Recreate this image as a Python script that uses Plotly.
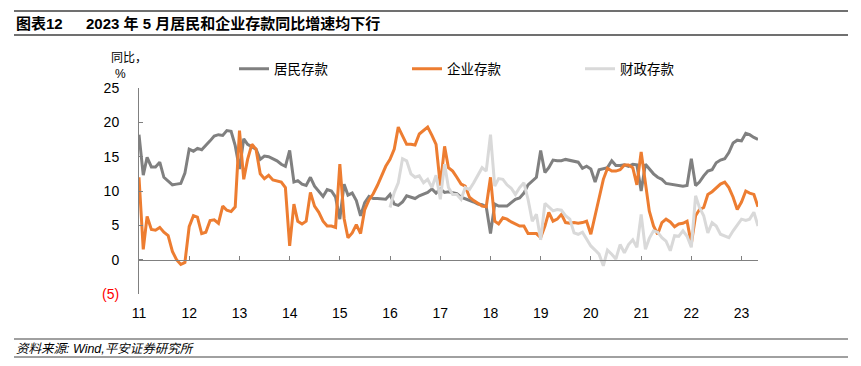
import pandas as pd
import plotly.graph_objects as go

# ---------------- data ----------------
months = pd.date_range("2011-01-01", "2023-05-01", freq="MS")

resident = [
    18.2, 12.3, 14.9, 13.5, 13.5, 14.2, 12.0, 11.5, 10.9, 11.0, 11.1, 12.6,
    16.1, 15.8, 16.2, 16.0, 16.6, 17.3, 18.0, 18.2, 18.1, 18.8, 18.7, 16.6,
    13.2, 17.6, 16.8, 16.4, 16.1, 14.6, 15.1, 15.0, 14.7, 14.4, 13.9, 13.6,
    15.9, 11.3, 11.5, 11.0, 10.8, 12.0, 10.7, 9.9, 9.2, 10.2, 10.0, 9.1,
    5.9, 11.0, 9.4, 9.7, 8.6, 6.4, 8.3, 9.2, 8.9, 8.9, 8.9, 8.8,
    9.5, 8.1, 7.9, 8.4, 9.3, 9.1, 8.9, 9.3, 9.5, 9.8, 10.3, 9.7,
    10.3, 9.8, 9.9, 9.7, 9.6, 9.1, 8.9, 8.6, 8.4, 8.1, 8.0, 7.7,
    3.8, 8.1, 7.8, 7.8, 7.8, 8.3, 8.8, 9.0, 9.7, 10.9, 11.5, 12.0,
    15.9, 12.7, 13.4, 14.5, 14.4, 14.4, 14.6, 14.5, 14.4, 14.2, 13.3, 13.6,
    13.2, 11.3, 13.1, 13.2, 13.4, 14.4, 13.7, 13.7, 13.8, 13.6, 13.9, 13.8,
    10.0, 13.9, 13.2, 12.5, 12.0, 11.7, 11.1, 11.0, 10.9, 10.7, 10.7, 10.8,
    14.7, 10.8, 11.3, 12.2, 12.9, 13.1, 14.1, 14.5, 14.7, 15.6, 17.0, 17.4,
    17.3, 18.4, 18.2, 17.8, 17.5,
]

enterprise = [
    12.0, 1.5, 6.3, 4.4, 4.3, 4.7, 4.0, 3.5, 1.2, 0.0, -0.7, -0.4,
    4.8, 6.4, 6.2, 3.8, 4.0, 5.7, 5.8, 5.3, 7.8, 7.2, 7.0, 7.7,
    18.8, 11.7, 14.6, 16.8, 16.1, 12.5, 11.8, 12.3, 11.6, 11.5, 11.3, 10.5,
    2.0, 8.1, 5.6, 5.2, 5.6, 9.8, 7.8, 6.9, 5.6, 4.9, 4.9, 4.7,
    13.9, 6.0, 3.2, 3.9, 5.1, 3.8, 7.3, 8.7, 9.6, 10.8, 12.2, 13.6,
    14.6, 16.1, 19.3, 18.0, 16.8, 16.8, 16.7, 18.3, 18.8, 19.3, 18.1, 16.8,
    10.8, 16.5, 13.4, 12.9, 12.0, 11.0, 10.7, 9.1, 8.6, 8.2, 7.8, 7.7,
    12.0, 5.6, 5.2, 6.1, 5.9, 5.5, 5.2, 4.9, 4.9, 3.8, 3.8, 3.8,
    3.2, 4.9, 6.9, 5.6, 5.9, 6.6, 5.4, 5.3, 5.4, 5.3, 5.4, 5.6,
    3.7, 6.4, 9.1, 11.7, 13.3, 12.9, 12.9, 13.1, 13.8, 13.8, 13.4, 10.9,
    15.7, 10.8, 7.1, 4.9, 3.7, 5.4, 5.9, 5.5, 4.8, 5.2, 5.3, 5.6,
    2.3, 6.4, 7.3, 7.6, 9.5, 9.9, 10.5, 11.0, 11.3, 10.5, 9.1, 7.3,
    8.4, 10.0, 9.7, 9.5, 7.7,
]

# fiscal deposits: series begins 2016-01
fiscal_months = pd.date_range("2016-01-01", "2023-05-01", freq="MS")
fiscal = [
    7.6, 9.8, 11.2, 14.7, 14.4, 12.5, 12.0, 12.2, 11.2, 11.7, 10.5, 12.3,
    8.8, 13.9, 10.5, 9.5, 9.5, 8.8, 10.5, 10.2, 11.2, 12.2, 13.4, 12.9,
    18.2, 10.7, 11.8, 11.7, 10.9, 10.4, 9.5, 10.5, 11.2, 8.8, 5.6, 6.6,
    2.9, 8.2, 7.7, 7.1, 7.3, 7.2, 6.4, 5.9, 3.9, 3.7, 4.0, 3.0,
    2.0, 1.4, 0.8, -0.9, 1.4, 0.8, 0.1, 2.2, 1.0, 2.2, 2.9, 1.8,
    6.6, 1.5, 3.1, 4.2, 4.0, 3.2, 2.7, 1.3, 3.5, 3.4, 4.2, 3.4,
    1.8, 9.3, 7.6, 6.4, 3.9, 5.4, 4.9, 3.7, 3.5, 3.2, 4.2, 5.1,
    5.9, 5.7, 5.9, 6.9, 4.9,
]

series_names = ["居民存款", "企业存款", "财政存款"]
year_ticks = pd.date_range("2011-01-01", "2023-01-01", freq="YS")
year_labels = ["11", "12", "13", "14", "15", "16", "17", "18", "19", "20", "21", "22", "23"]
y_ticks = [-5, 0, 5, 10, 15, 20, 25]
y_labels = ["<span style='color:#FF0000'>(5)</span>", "0", "5", "10", "15", "20", "25"]

title_text = "<b>图表12</b>"
subtitle_text = "<b>2023 年 5 月居民和企业存款同比增速均下行</b>"
source_text = "<i>资料来源: Wind,平安证券研究所</i>"

# ---------------- figure ----------------
FONT = "Liberation Sans, Arial, Noto Sans CJK SC, sans-serif"
OFF = 8                      # page body margin of the html page
W, H = 861 - OFF, 366 - OFF
L, R, T, B = 139 - OFF, 103, 88 - OFF, 72
pw, ph = W - L - R, H - T - B


def px(x):
    """page x pixel -> paper fraction"""
    return (x - OFF - L) / pw


def py(y):
    """page y pixel -> paper fraction"""
    return (H - B - (y - OFF)) / ph


fig = go.Figure()
fig.add_trace(go.Scatter(x=months, y=resident, name=series_names[0], mode="lines",
                         line=dict(color="#808080", width=3)))
fig.add_trace(go.Scatter(x=months, y=enterprise, name=series_names[1], mode="lines",
                         line=dict(color="#ED7D31", width=3)))
fig.add_trace(go.Scatter(x=fiscal_months, y=fiscal, name=series_names[2], mode="lines",
                         line=dict(color="#D9D9D9", width=3), xaxis="x2"))

xr = [months[0], months[-1]]
fig.update_layout(
    width=W, height=H,
    margin=dict(l=L, r=R, t=T, b=B, autoexpand=False),
    paper_bgcolor="white", plot_bgcolor="white",
    font=dict(family=FONT, size=14, color="#000000"),
    showlegend=True,
    legend=dict(orientation="h", x=px(234), y=py(69), xanchor="left", yanchor="middle",
                font=dict(size=13.5, family=FONT), entrywidth=128, entrywidthmode="pixels",
                bgcolor="rgba(0,0,0,0)", tracegroupgap=0, itemwidth=30),
    xaxis=dict(range=xr, showgrid=False, zeroline=False, showline=False, ticks="",
               tickvals=year_ticks, ticktext=year_labels, ticklabelstandoff=9,
               tickfont=dict(size=14)),
    xaxis2=dict(overlaying="x", matches="x", anchor="free", position=5 / 30,
                showgrid=False, zeroline=False, showline=True, linecolor="#808080", linewidth=1,
                ticks="inside", ticklen=4, tickcolor="#808080", tickvals=year_ticks,
                showticklabels=False),
    yaxis=dict(range=[-5, 25], showgrid=False, zeroline=False, showline=True,
               linecolor="#808080", linewidth=1, ticks="inside", ticklen=4, tickcolor="#808080",
               tickvals=y_ticks, ticktext=y_labels, ticklabelstandoff=16,
               tickfont=dict(size=14)),
)

annos = [
    dict(text=title_text, x=px(14), y=py(24), xanchor="left", yanchor="middle",
         font=dict(size=15)),
    dict(text=subtitle_text, x=px(84), y=py(24), xanchor="left", yanchor="middle",
         font=dict(size=15)),
    dict(text="同比，", x=px(110), y=py(58), xanchor="left", yanchor="middle",
         font=dict(size=12), borderpad=0),
    dict(text="%", x=px(114), y=py(74), xanchor="left", yanchor="middle",
         font=dict(size=12), borderpad=0),
    dict(text=source_text, x=px(14), y=py(349), xanchor="left", yanchor="middle",
         font=dict(size=12.5)),
]
for a in annos:
    fig.add_annotation(xref="paper", yref="paper", showarrow=False, **a)

for yy, col, wd in [(11, "#404040", 1.5), (35, "#404040", 1.5), (339, "#808080", 1.5), (357, "#808080", 1.5)]:
    fig.add_shape(type="line", xref="paper", yref="paper", x0=px(14), x1=px(848),
                  y0=py(yy), y1=py(yy), line=dict(color=col, width=wd))

fig.write_html("out.html")
